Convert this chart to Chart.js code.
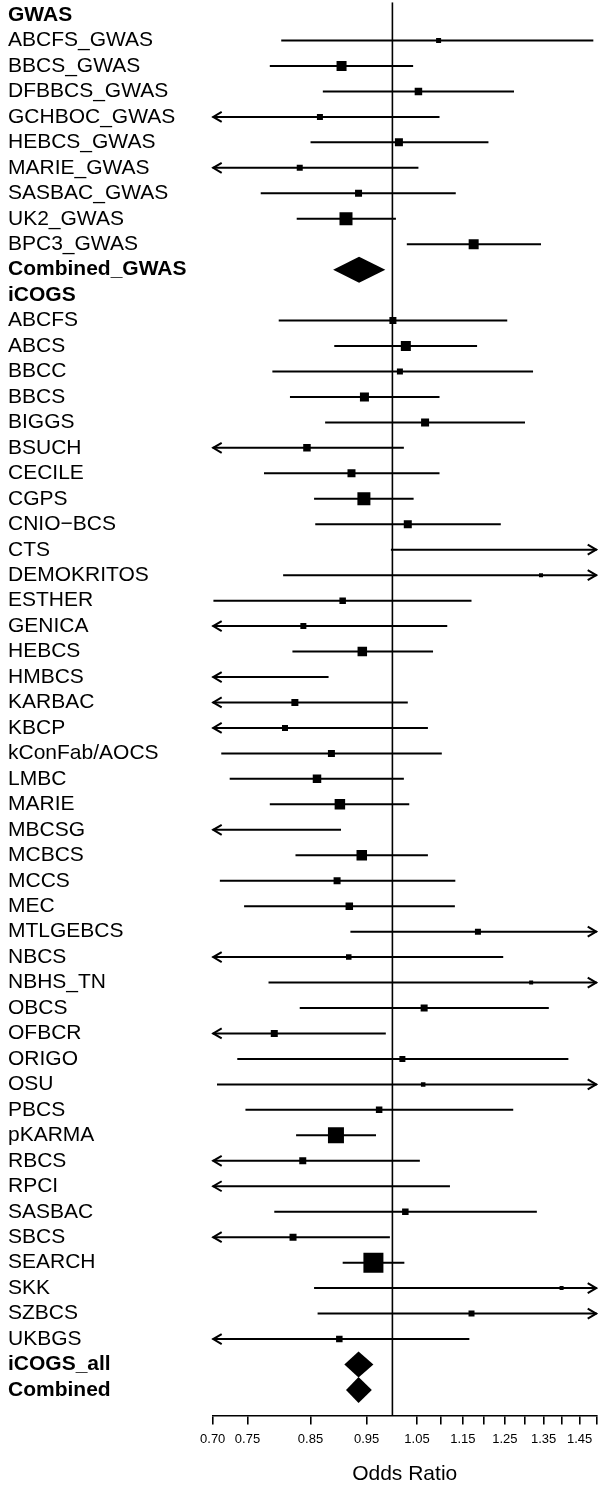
<!DOCTYPE html>
<html><head><meta charset="utf-8">
<script src="https://cdn.jsdelivr.net/npm/chart.js@4.4.0/dist/chart.umd.min.js"></script>
<style>html,body{margin:0;padding:0;background:#fff;}canvas{display:block;}</style>
</head><body>
<div style="width:598px;height:1485px;position:relative"><canvas id="c" width="598" height="1485"></canvas></div>
<script>
const studies = ["GWAS","ABCFS_GWAS","BBCS_GWAS","DFBBCS_GWAS","GCHBOC_GWAS","HEBCS_GWAS","MARIE_GWAS","SASBAC_GWAS","UK2_GWAS","BPC3_GWAS","Combined_GWAS",
"iCOGS","ABCFS","ABCS","BBCC","BBCS","BIGGS","BSUCH","CECILE","CGPS","CNIO\u2212BCS","CTS","DEMOKRITOS","ESTHER","GENICA","HEBCS","HMBCS","KARBAC","KBCP","kConFab/AOCS","LMBC","MARIE","MBCSG","MCBCS","MCCS","MEC","MTLGEBCS","NBCS","NBHS_TN","OBCS","OFBCR","ORIGO","OSU","PBCS","pKARMA","RBCS","RPCI","SASBAC","SBCS","SEARCH","SKK","SZBCS","UKBGS","iCOGS_all","Combined"];
const boldRows = [0, 10, 11, 53, 54];
const summaryRows = [10, 53, 54];
const oddsRatio = [null,1.096,0.904,1.053,0.866,1.013,0.832,0.935,0.912,1.175,0.936,
null,1.001,1.027,1.015,0.946,1.067,0.844,0.922,0.945,1.031,1.70,1.343,0.906,0.838,0.942,0.55,0.824,0.808,0.886,0.861,0.901,0.60,0.941,0.896,0.918,1.185,0.917,1.317,1.065,0.791,1.020,1.063,0.974,0.894,0.837,0.65,1.026,0.821,0.963,1.399,1.170,0.900,0.935,0.935];
const lowerCI = [null,0.802,0.784,0.871,0.66,0.850,0.64,0.770,0.827,1.029,0.889,
null,0.798,0.891,0.788,0.816,0.875,0.67,0.775,0.856,0.858,0.997,0.805,0.701,0.62,0.820,0.30,0.65,0.60,0.712,0.724,0.784,0.36,0.825,0.710,0.745,0.920,0.67,0.782,0.832,0.63,0.735,0.706,0.747,0.826,0.66,0.38,0.791,0.68,0.906,0.856,0.862,0.69,0.909,0.912];
const upperCI = [null,1.49,1.042,1.273,1.098,1.210,1.053,1.134,1.007,1.343,0.986,
null,1.256,1.183,1.322,1.098,1.301,1.023,1.098,1.043,1.240,2.90,2.25,1.170,1.115,1.084,0.881,1.031,1.073,1.103,1.023,1.034,0.903,1.073,1.133,1.132,1.55,1.246,2.2,1.364,0.987,1.418,1.60,1.271,0.968,1.056,1.121,1.332,0.995,1.024,2.3,1.62,1.165,0.963,0.960];
const studyWeight = [null,5,10,7.5,6,8,6,7,13,10,null,
null,7,10,6,9,8,7.5,8,13,8,5,4,6.5,6,9.5,4,7,6,7,8.5,10.5,4,10.5,7,7.5,6,5.5,4,7,7,6,4.5,6.5,16,7,4,6.5,7,20,4,6,6.5,null,null];
const xTickValues = [0.70,0.75,0.85,0.95,1.05,1.10,1.15,1.20,1.25,1.30,1.35,1.40,1.45,1.50];
const xTickLabels = ["0.70","0.75","0.85","0.95","1.05","","1.15","","1.25","","1.35","","1.45",""];
const refValue = 1;

const FONT = "'Liberation Sans', Arial, Helvetica, sans-serif";
const rowIdx = studies.map((s, i) => i);
const ciLine = [], boxPts = [], boxSide = [];
studies.forEach((s, i) => {
  if (oddsRatio[i] === null || summaryRows.includes(i)) return;
  ciLine.push({x: lowerCI[i], y: i}, {x: upperCI[i], y: i}, {x: null, y: null});
  boxPts.push({x: oddsRatio[i], y: i});
  boxSide.push(studyWeight[i]);
});

const forestMarks = {
  id: 'forestMarks',
  afterDatasetsDraw(chart) {
    const {ctx, chartArea: a, scales: {x, y}} = chart;
    const rowH = Math.abs(y.getPixelForValue(1) - y.getPixelForValue(0));
    ctx.save();
    ctx.fillStyle = '#000'; ctx.strokeStyle = '#000'; ctx.lineWidth = 2;
    summaryRows.forEach(i => {
      const yc = y.getPixelForValue(i), h = rowH * 0.51;
      const xl = x.getPixelForValue(lowerCI[i]), xm = x.getPixelForValue(oddsRatio[i]), xr = x.getPixelForValue(upperCI[i]);
      ctx.beginPath(); ctx.moveTo(xl, yc); ctx.lineTo(xm, yc - h); ctx.lineTo(xr, yc); ctx.lineTo(xm, yc + h); ctx.closePath(); ctx.fill();
    });
    studies.forEach((s, i) => {
      if (lowerCI[i] === null || summaryRows.includes(i)) return;
      const yc = y.getPixelForValue(i);
      if (lowerCI[i] < x.min) {
        ctx.beginPath(); ctx.moveTo(a.left + 9, yc - 5); ctx.lineTo(a.left + 0.5, yc); ctx.lineTo(a.left + 9, yc + 5); ctx.stroke();
      }
      if (upperCI[i] > x.max) {
        ctx.beginPath(); ctx.moveTo(a.right - 9, yc - 5); ctx.lineTo(a.right - 0.5, yc); ctx.lineTo(a.right - 9, yc + 5); ctx.stroke();
      }
    });
    ctx.restore();
  }
};

new Chart(document.getElementById('c'), {
  type: 'scatter',
  data: {
    datasets: [
      {label: 'ref', data: [{x: refValue, y: -0.5}, {x: refValue, y: studies.length}], showLine: true,
       borderColor: '#000', borderWidth: 1.6, pointRadius: 0, clip: 0},
      {label: 'CI', data: ciLine, showLine: true, spanGaps: false, borderColor: '#000', borderWidth: 2,
       pointRadius: 0, clip: 0},
      {label: 'OR', data: boxPts, pointStyle: 'rect', backgroundColor: '#000', borderWidth: 0,
       pointRadius: ctx => (boxSide[ctx.dataIndex] || 4) / Math.SQRT2, clip: 0}
    ]
  },
  options: {
    responsive: false, animation: false, events: [],
    layout: {autoPadding: false, padding: {left: 8, right: 1.3, top: 2.3, bottom: 0}},
    plugins: {legend: {display: false}, tooltip: {enabled: false}},
    scales: {
      x: {
        type: 'logarithmic', min: 0.7, max: 1.5,
        afterBuildTicks: ax => { ax.ticks = xTickValues.map(v => ({value: v})); },
        afterFit: ax => { ax.paddingLeft = 0; ax.paddingRight = 0; },
        grid: {drawOnChartArea: false, drawTicks: true, tickLength: 9, color: '#000', lineWidth: 1.6},
        border: {display: true, color: '#000', width: 1.6},
        ticks: {autoSkip: false, maxRotation: 0, minRotation: 0, padding: 7, color: '#000',
          font: {family: FONT, size: 13}, callback: (v, i) => xTickLabels[i]},
        title: {display: true, text: 'Odds Ratio', color: '#000',
          font: {family: FONT, size: 21, lineHeight: 1}, padding: {top: 10, bottom: 0}}
      },
      y: {
        type: 'linear', min: -0.5, max: studies.length, reverse: true,
        afterBuildTicks: ax => { ax.ticks = rowIdx.map(v => ({value: v})); },
        afterFit: ax => { ax.width = 212.7 - 8; ax.paddingTop = 0; ax.paddingBottom = 0; },
        grid: {display: false, drawTicks: false},
        border: {display: false},
        ticks: {autoSkip: false, crossAlign: 'far', padding: 0, color: '#000',
          callback: v => studies[v],
          font: ctx => ({family: FONT, size: 21, weight: boldRows.includes(ctx.tick ? ctx.tick.value : ctx.index) ? 'bold' : 'normal'})}
      }
    }
  },
  plugins: [forestMarks]
});
</script>
</body></html>
